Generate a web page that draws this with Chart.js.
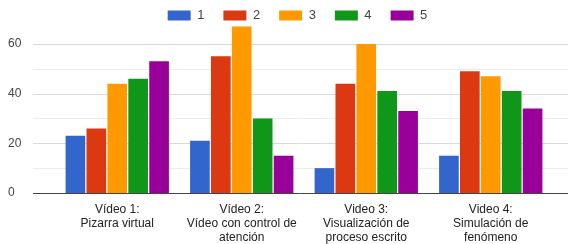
<!DOCTYPE html>
<html lang="es">
<head>
  <meta charset="UTF-8">
  <title>Valoración de vídeos</title>
  <script src="https://cdn.jsdelivr.net/npm/chart.js"></script>
  <style>
    body { margin: 0; background: #fff; }
    #wrap { width: 568px; height: 244px; position: relative; }
  </style>
</head>
<body>
  <div id="wrap"><canvas id="chart"></canvas></div>

  <script>
    // categories (x labels, one line per entry)
    const videos = [
      ["Vídeo 1:", "Pizarra virtual"],
      ["Vídeo 2:", "Vídeo con control de", "atención"],
      ["Video 3:", "Visualización de", "proceso escrito"],
      ["Video 4:", "Simulación de", "fenómeno"]
    ];
    const seriesNames = ["1", "2", "3", "4", "5"];
    const colors = ["#3366cc", "#dc3912", "#ff9900", "#109618", "#990099"];

    // values per rating, one entry per video
    const rating1 = [23, 21, 10, 15];
    const rating2 = [26, 55, 44, 49];
    const rating3 = [44, 67, 60, 47];
    const rating4 = [46, 30, 41, 41];
    const rating5 = [53, 15, 33, 34];

    const yLabels = [0, 20, 40, 60];
    const minorLines = [10, 30, 50];

    const seriesValues = [rating1, rating2, rating3, rating4, rating5];

    // horizontal grid drawn across the full width like the original
    const gridPlugin = {
      id: "fullGrid",
      beforeDatasetsDraw(chart) {
        const ctx = chart.ctx;
        const y = chart.scales.y;
        ctx.save();
        ctx.lineWidth = 1;
        minorLines.forEach(v => {
          const py = Math.round(y.getPixelForValue(v)) + 0.5;
          ctx.strokeStyle = "#ececec";
          ctx.beginPath(); ctx.moveTo(33, py); ctx.lineTo(568, py); ctx.stroke();
        });
        yLabels.forEach(v => {
          if (v === 0) return;
          const py = Math.round(y.getPixelForValue(v)) + 0.5;
          ctx.strokeStyle = "#d9d9d9";
          ctx.beginPath(); ctx.moveTo(33, py); ctx.lineTo(568, py); ctx.stroke();
        });
        ctx.restore();
      },
      afterDatasetsDraw(chart) {
        const ctx = chart.ctx;
        const py = Math.round(chart.scales.y.getPixelForValue(0)) + 0.5;
        ctx.save();
        ctx.strokeStyle = "#444";
        ctx.lineWidth = 1;
        ctx.beginPath(); ctx.moveTo(33, py); ctx.lineTo(568, py); ctx.stroke();
        ctx.restore();
      },
      afterLayout(chart) {
        // nudge the legend row up and right
        chart.legend.top = -10;
        chart.legend.left += 17;
        chart.legend.right += 17;
      }
    };

    new Chart(document.getElementById("chart"), {
      type: "bar",
      data: {
        labels: videos,
        datasets: seriesNames.map((name, i) => ({
          label: name,
          data: seriesValues[i],
          backgroundColor: colors[i],
          borderWidth: 0,
          barPercentage: 0.94,
          categoryPercentage: 0.84
        }))
      },
      options: {
        responsive: true,
        maintainAspectRatio: false,
        animation: false,
        layout: { padding: { left: 8, right: 15, top: 0, bottom: 0 } },
        plugins: {
          tooltip: { enabled: false },
          legend: {
            position: "top",
            maxHeight: 24,
            labels: {
              boxWidth: 23,
              boxHeight: 10,
              padding: 19,
              color: "#444",
              font: { family: "Liberation Sans, Arial, sans-serif", size: 13 }
            }
          }
        },
        scales: {
          x: {
            grid: { display: false, drawTicks: false },
            border: { display: false },
            ticks: {
              color: "#222",
              padding: 10,
              maxRotation: 0,
              autoSkip: false,
              font: { family: "Liberation Sans, Arial, sans-serif", size: 12, lineHeight: 1.15 }
            },
            afterFit(scale) { scale.height = 51; }
          },
          y: {
            min: 0,
            max: 68,
            grid: { display: false, drawTicks: false },
            border: { display: false },
            afterBuildTicks(scale) {
              scale.ticks = yLabels.map(v => ({ value: v }));
            },
            ticks: {
              color: "#444",
              crossAlign: "far",
              font: { family: "Liberation Sans, Arial, sans-serif", size: 12 }
            },
            afterFit(scale) { scale.width = 47; }
          }
        }
      },
      plugins: [gridPlugin]
    });
  </script>
</body>
</html>
